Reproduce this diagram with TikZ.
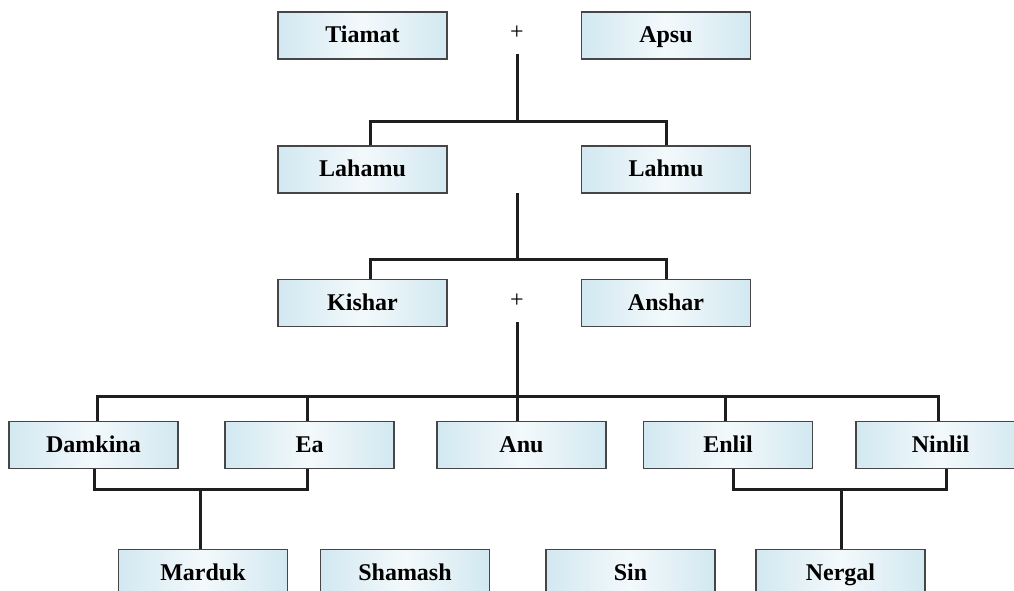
\documentclass[tikz,border=0pt]{standalone}
\usepackage{fontspec}
\setmainfont{Liberation Serif}
\definecolor{bxedge}{RGB}{210,232,241}
\definecolor{bxmid}{RGB}{243,249,251}
\definecolor{bxline}{RGB}{70,70,70}
\definecolor{conn}{RGB}{30,30,30}
\tikzset{
  god/.style={draw=bxline, line width=1.1pt, left color=bxedge, right color=bxedge, middle color=bxmid,
    minimum width=169pt, minimum height=47pt, inner sep=0pt,
    text height=16.5pt, text depth=2.5pt,
    font=\fontsize{24}{28}\selectfont\bfseries},
  plussign/.style={inner sep=0pt, font=\fontsize{24}{28}\selectfont},
  link/.style={draw=conn, line width=3pt}
}
\begin{document}
\begin{tikzpicture}[x=1pt,y=-1pt]
\useasboundingbox (0,0) rectangle (1014,591);
\clip (0,0) rectangle (1014,591);
% row 1
\node[god] (Tiamat) at (362.5,35.5) {Tiamat};
\node[god] (Apsu) at (666,35.5) {Apsu};
\node[plussign] (plus1) at (517,33) {+};
% row 2
\node[god] (Lahamu) at (362.5,169.5) {Lahamu};
\node[god] (Lahmu) at (666,169.5) {Lahmu};
% row 3
\node[god] (Kishar) at (362.5,303) {Kishar};
\node[god] (Anshar) at (666,303) {Anshar};
\node[plussign] (plus2) at (517,301) {+};
% row 4
\node[god] (Damkina) at (93.5,445) {Damkina};
\node[god] (Ea) at (309.5,445) {Ea};
\node[god] (Anu) at (521.5,445) {Anu};
\node[god] (Enlil) at (728,445) {Enlil};
\node[god] (Ninlil) at (940.5,445) {Ninlil};
% row 5
\node[god] (Marduk) at (203,573) {Marduk};
\node[god] (Shamash) at (405,573) {Shamash};
\node[god] (Sin) at (630.5,573) {Sin};
\node[god] (Nergal) at (840.5,573) {Nergal};

% coordinates
\coordinate (t1a) at (517,54);
\coordinate (t1b) at (517,122);
\coordinate (t2a) at (517,193);
\coordinate (t2b) at (517,259);
\coordinate (t3a) at (517,322);
\coordinate (t3b) at (517,396);
\coordinate (m1) at (200,489);
\coordinate (m2) at (841,489);

% first generation
\draw[link] (t1a) -- (t1b);
\draw[link] ([xshift=7.5pt]Lahamu.north) |- (t1b) -| (Lahmu.north);
% second generation
\draw[link] (t2a) -- (t2b);
\draw[link] ([xshift=7.5pt]Kishar.north) |- (t2b) -| (Anshar.north);
% third generation
\draw[link] (t3a) -- (t3b);
\draw[link] ([xshift=3.5pt]Damkina.north) |- (t3b) -| ([xshift=-2.5pt]Ninlil.north);
\draw[link] ([xshift=-2.5pt]Ea.north) -- ([xshift=-2.5pt]Ea.north |- t3b);
\draw[link] (Anu.north -| t3b) -- (t3b);
\draw[link] ([xshift=-3pt]Enlil.north) -- ([xshift=-3pt]Enlil.north |- t3b);
% children
\draw[link] ([xshift=0.5pt]Damkina.south) |- (m1) -| ([xshift=-2.5pt]Ea.south);
\draw[link] (m1) -- (m1 |- Marduk.north);
\draw[link] ([xshift=5pt]Enlil.south) |- (m2) -| ([xshift=5.5pt]Ninlil.south);
\draw[link] (m2) -- (m2 |- Nergal.north);
\end{tikzpicture}
\end{document}
